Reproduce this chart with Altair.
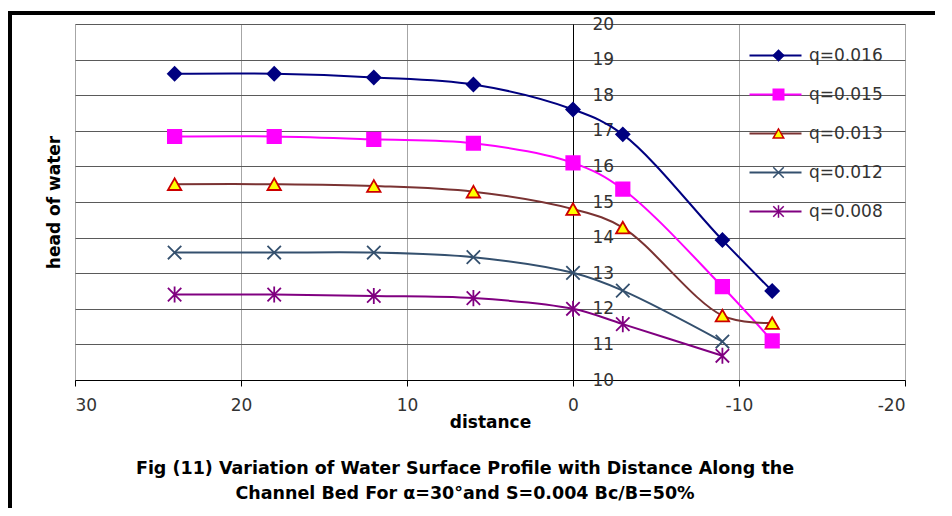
import altair as alt
import pandas as pd

# ---- data ----
distance = [24, 18, 12, 6, 0, -3, -9, -12]
series_names = ["q=0.016", "q=0.015", "q=0.013", "q=0.012", "q=0.008"]
q016 = [18.6, 18.6, 18.5, 18.3, 17.6, 16.9, 13.93, 12.5]
q015 = [16.84, 16.84, 16.76, 16.65, 16.1, 15.36, 12.62, 11.1]
q013 = [15.5, 15.5, 15.45, 15.29, 14.8, 14.28, 11.81, 11.6]
q012 = [13.58, 13.58, 13.58, 13.45, 13.01, 12.51, 11.08]
q008 = [12.4, 12.4, 12.36, 12.3, 12.0, 11.57, 10.68]

x_ticks = [30, 20, 10, 0, -10, -20]
y_ticks = [10, 11, 12, 13, 14, 15, 16, 17, 18, 19, 20]

line_colors = ["#000080", "#FF00FF", "#7A3232", "#34506E", "#800080"]
marker_stroke = ["#000080", "#FF00FF", "#CC0000", "#34506E", "#800080"]
marker_fill = ["#000080", "#FF00FF", "#FFFF00", "transparent", "transparent"]
marker_shapes = [
    "diamond",
    "square",
    "triangle-up",
    "M-1,-1L1,1M-1,1L1,-1",
    "M-1,-1L1,1M-1,1L1,-1M0,-1.2L0,1.2",
]

rows = []
for name, vals in zip(series_names, [q016, q015, q013, q012, q008]):
    for xv, yv in zip(distance, vals):
        rows.append({"series": name, "line_series": name, "distance": xv, "head": yv})
df = pd.DataFrame(rows)

FONT = "DejaVu Sans"

x_enc = alt.X(
    "distance:Q",
    scale=alt.Scale(domain=[-20, 30], reverse=True, nice=False),
    axis=alt.Axis(
        values=x_ticks, title="distance", grid=True, gridColor="#a6a6a6",
        domainColor="#000000", tickColor="#000000", tickSize=6,
        labelExpr="'' + datum.value",
        labelFontSize=17, labelColor="#333333", labelFont=FONT, labelPadding=11,
        titleFont=FONT, titleFontSize=17, titleFontWeight="bold", titleColor="#000000",
        titlePadding=1,
    ),
)
y_scale = alt.Scale(domain=[10, 20], nice=False, zero=False)

lines = alt.Chart(df).mark_line(interpolate="catmull-rom", strokeWidth=2).encode(
    x=x_enc,
    y=alt.Y(
        "head:Q", scale=y_scale,
        axis=alt.Axis(
            orient="right", offset=-332, values=y_ticks, title=None,
            grid=True, gridColor="#5a5a5a", domainColor="#000000",
            ticks=False, tickSize=0, labelPadding=19, labelAlign="left",
            labelFontSize=17, labelColor="#333333", labelFont=FONT,
        ),
    ),
    stroke=alt.Stroke(
        "line_series:N",
        sort="descending",
        scale=alt.Scale(range=line_colors),
        legend=alt.Legend(
            orient="none", legendX=673, legendY=12, title=None, padding=0,
            symbolType="stroke", symbolSize=2704, symbolStrokeWidth=2.2,
            clipHeight=39, rowPadding=0, labelOffset=6,
            labelFontSize=17, labelColor="#333333", labelFont=FONT,
        ),
    ),
    detail="series:N",
)

legend_pts = alt.Legend(
    orient="none", legendX=695, legendY=12, title=None, padding=0,
    symbolSize=110, symbolStrokeWidth=1.5, clipHeight=39, rowPadding=0,
    labelExpr="''", labelFontSize=17,
)

points = alt.Chart(df).mark_point(filled=False, size=180, strokeWidth=1.8, opacity=1).encode(
    x=x_enc,
    y=alt.Y(
        "head:Q", scale=y_scale,
        axis=alt.Axis(
            orient="left", title="head of water", labels=False, ticks=False,
            domain=False, grid=False, titlePadding=12, titleFont=FONT,
            titleFontSize=17, titleFontWeight="bold", titleColor="#000000",
        ),
    ),
    color=alt.Color("series:N", scale=alt.Scale(domain=series_names, range=marker_stroke), legend=legend_pts),
    fill=alt.Fill("series:N", scale=alt.Scale(domain=series_names, range=marker_fill), legend=legend_pts),
    shape=alt.Shape("series:N", scale=alt.Scale(domain=series_names, range=marker_shapes), legend=legend_pts),
)

frame_data = alt.Data(values=[{"k": 1}])
frame_top = alt.Chart(frame_data).mark_rule(color="#000000", strokeWidth=4).encode(
    x=alt.value(-68), x2=alt.value(900), y=alt.value(-11)
)
frame_left = alt.Chart(frame_data).mark_rule(color="#000000", strokeWidth=4).encode(
    x=alt.value(-65), y=alt.value(-13), y2=alt.value(500)
)

chart = (
    alt.layer(lines, points, frame_top, frame_left)
    .resolve_axis(y="independent")
    .properties(
        width=830, height=356,
        padding={"left": 67, "top": 16, "right": 30, "bottom": 128},
        autosize="none",
        title=alt.TitleParams(
            text=[
                "Fig (11) Variation of Water Surface Profile with Distance  Along the",
                "Channel Bed For  \u03b1=30\u00b0and S=0.004 Bc/B=50%",
            ],
            orient="bottom", anchor="middle", font=FONT, fontSize=17.5,
            fontWeight="bold", color="#000000", offset=-66, dx=-25, lineHeight=25,
        ),
    )
    .configure_view(stroke=None)
    .configure(background="#ffffff")
)

chart.save("out.html", embed_options={"renderer": "svg", "actions": False})
